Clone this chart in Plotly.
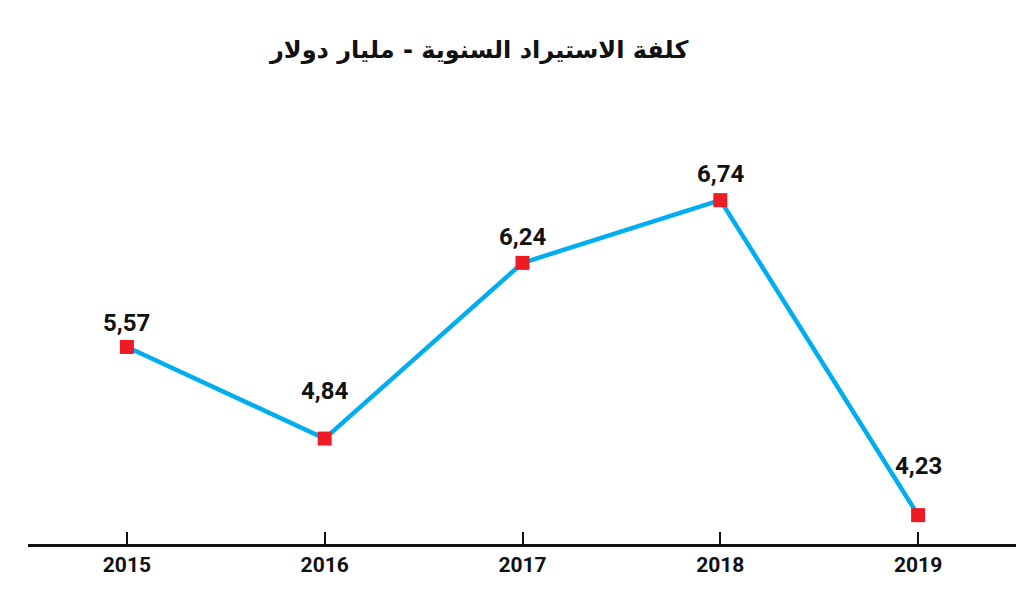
import plotly.graph_objects as go

years = [2015, 2016, 2017, 2018, 2019]
cost = [5.57, 4.84, 6.24, 6.74, 4.23]
cost_labels = ["5,57", "4,84", "6,24", "6,74", "4,23"]
title_text = "كلفة الاستيراد السنوية - مليار دولار"

# labels sit higher over the two low points in the original
label_shift = [24, 48, 26, 26, 49]

fig = go.Figure()
fig.add_trace(go.Scatter(
    x=years, y=cost,
    mode="lines+markers",
    line=dict(color="#00aeef", width=4.5),
    marker=dict(symbol="square", size=14, color="#ed1c24"),
    hoverinfo="skip",
))

for yr, v, lab, sh in zip(years, cost, cost_labels, label_shift):
    fig.add_annotation(
        x=yr, y=v, text=f"<b>{lab}</b>", showarrow=False,
        yshift=sh, font=dict(family="Roboto, sans-serif", size=24, color="#111"),
    )

# title, centred a bit left of the page middle
fig.add_annotation(
    x=0.456, y=1.0, xref="paper", yref="paper", yanchor="middle",
    yshift=-8, text=f"<b>{title_text}</b>", showarrow=False,
    font=dict(family="DejaVu Sans", size=24, color="#111"),
)

# page body has an 8px margin, so the figure is 8px smaller than the window
fig.update_layout(
    width=1016, height=584,
    margin=dict(l=20, r=7, t=34, b=48),
    paper_bgcolor="white", plot_bgcolor="white",
    showlegend=False,
    xaxis=dict(
        range=[2014.5, 2019.5],
        tickvals=years,
        ticktext=[f"<b>{y}</b>" for y in years],
        ticks="inside", ticklen=12, tickwidth=2, tickcolor="#111",
        showline=True, linecolor="#111", linewidth=2.5,
        showgrid=False, zeroline=False,
        tickfont=dict(family="Roboto, sans-serif", size=21, color="#111"),
    ),
    yaxis=dict(range=[4, 8], visible=False, showgrid=False, zeroline=False),
)

fig.write_html("out.html")
